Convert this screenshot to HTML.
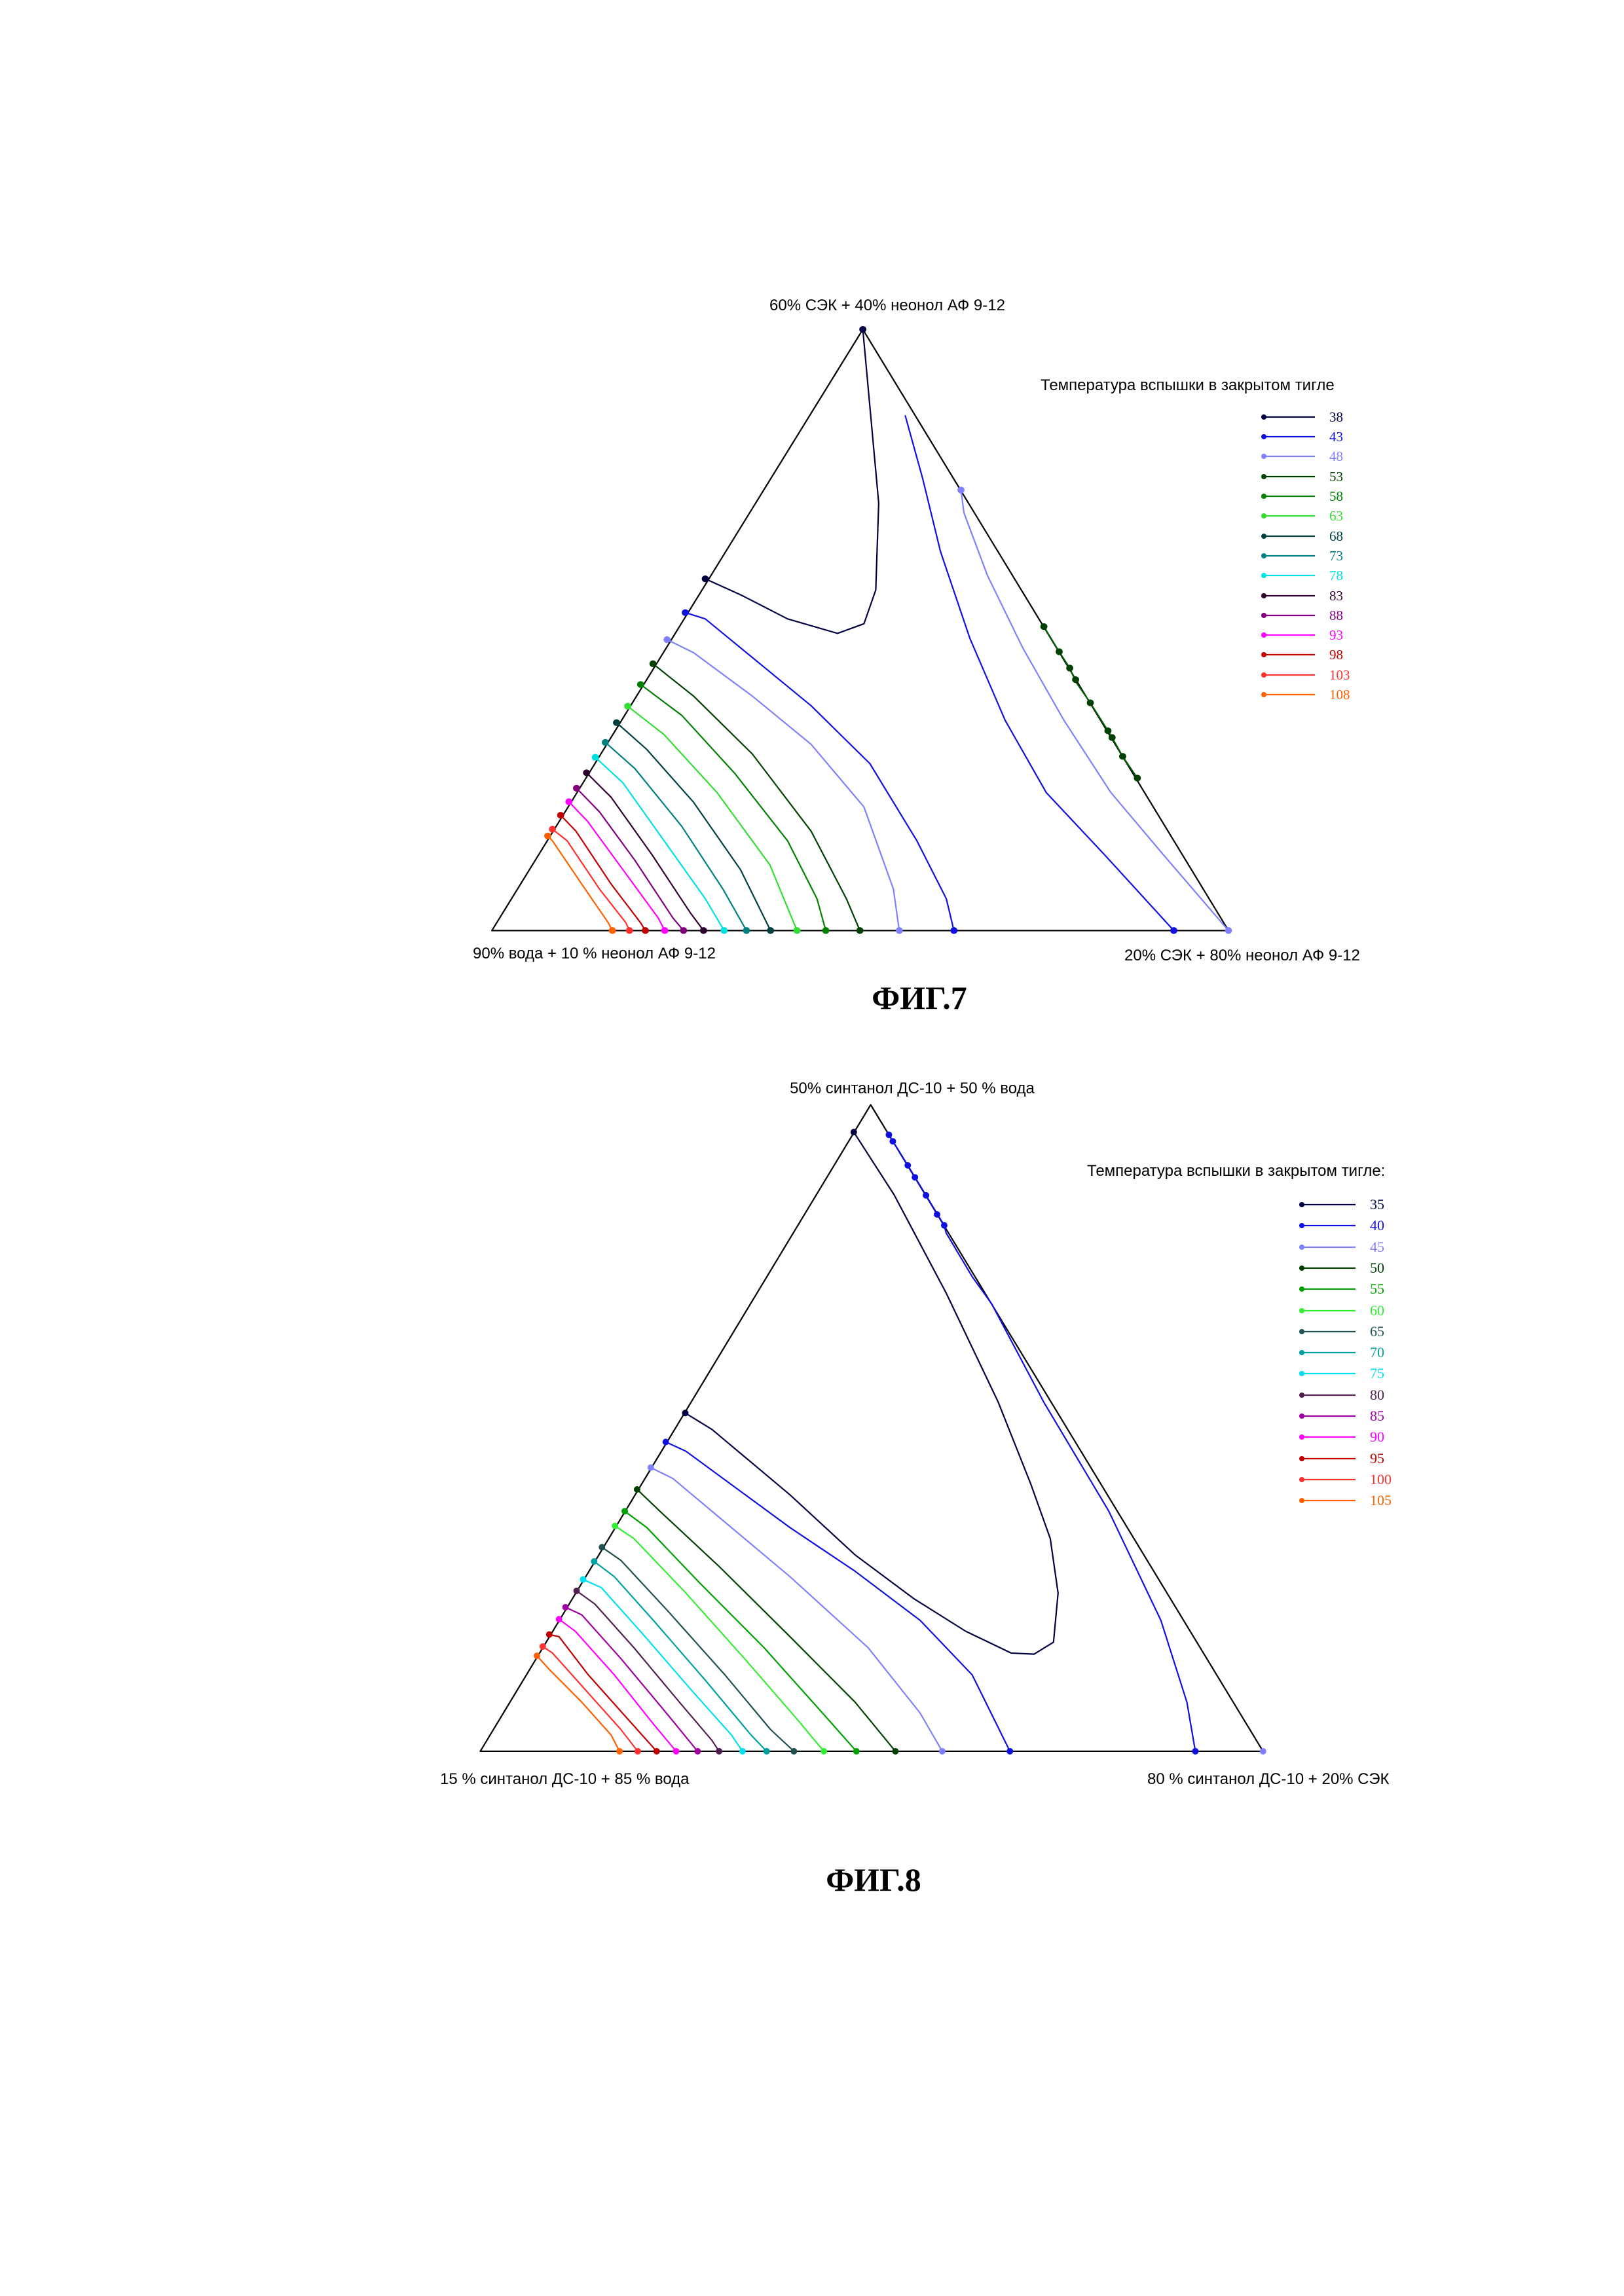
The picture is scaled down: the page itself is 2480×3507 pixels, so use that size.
<!DOCTYPE html>
<html><head><meta charset="utf-8"><style>
html,body{margin:0;padding:0;background:#fff}
svg{display:block}
text{font-family:"Liberation Sans","DejaVu Sans",sans-serif}
</style></head><body>
<svg width="2480" height="3507" viewBox="0 0 2480 3507" xmlns="http://www.w3.org/2000/svg">
<rect width="2480" height="3507" fill="#fff"/>
<g fill="none" stroke-width="2.2" stroke-linejoin="round">
<g transform="translate(700,400) scale(0.8977,0.7369)">
<path vector-effect="non-scaling-stroke" stroke="#000" d="M688,140 L57,1386 L1310,1386 Z"/>
<path vector-effect="non-scaling-stroke" stroke="#000040" d="M420,657 L480,690 L560,740 L645,770 L690,750 L710,680 L715,500 L700,300 L688,140"/>
<path vector-effect="non-scaling-stroke" stroke="#1010e0" d="M386,727 L420,740 L500,820 L600,920 L700,1040 L780,1200 L830,1320 L843,1386"/>
<path vector-effect="non-scaling-stroke" stroke="#1010e0" d="M760,318 L790,450 L820,600 L870,780 L930,950 L1000,1100 L1100,1230 L1217,1386"/>
<path vector-effect="non-scaling-stroke" stroke="#8080ff" d="M355,783 L400,810 L500,900 L600,1000 L690,1130 L740,1300 L750,1386"/>
<path vector-effect="non-scaling-stroke" stroke="#8080ff" d="M855,473 L860,520 L900,650 L960,800 L1030,950 L1110,1100 L1200,1230 L1310,1386"/>
<path vector-effect="non-scaling-stroke" stroke="#004000" d="M331,833 L400,900 L500,1020 L600,1180 L660,1320 L683,1386"/>
<path vector-effect="non-scaling-stroke" stroke="#006000" d="M996,756 L1022,808 L1040,842 L1050,870 L1075,914 L1105,972 L1112,986 L1130,1025 L1155,1070"/>
<path vector-effect="non-scaling-stroke" stroke="#008000" d="M310,876 L380,940 L470,1060 L560,1200 L610,1320 L625,1386"/>
<path vector-effect="non-scaling-stroke" stroke="#33dd33" d="M288,921 L350,980 L440,1100 L530,1250 L576,1386"/>
<path vector-effect="non-scaling-stroke" stroke="#004040" d="M269,955 L320,1010 L400,1120 L480,1260 L531,1386"/>
<path vector-effect="non-scaling-stroke" stroke="#008080" d="M250,996 L300,1050 L380,1170 L450,1300 L490,1386"/>
<path vector-effect="non-scaling-stroke" stroke="#00e0e0" d="M233,1027 L280,1080 L350,1200 L420,1320 L452,1386"/>
<path vector-effect="non-scaling-stroke" stroke="#300030" d="M218,1059 L260,1110 L330,1230 L395,1350 L417,1386"/>
<path vector-effect="non-scaling-stroke" stroke="#800080" d="M201,1091 L240,1140 L300,1240 L365,1360 L383,1386"/>
<path vector-effect="non-scaling-stroke" stroke="#ff00ff" d="M188,1119 L220,1160 L280,1260 L340,1360 L351,1386"/>
<path vector-effect="non-scaling-stroke" stroke="#c00000" d="M174,1147 L200,1180 L260,1290 L310,1370 L318,1386"/>
<path vector-effect="non-scaling-stroke" stroke="#ff3030" d="M160,1176 L185,1200 L240,1300 L285,1370 L291,1386"/>
<path vector-effect="non-scaling-stroke" stroke="#ff6000" d="M152,1190 L160,1200 L210,1290 L255,1370 L262,1386"/>
<g stroke="none">
<ellipse cx="688" cy="140" rx="6" ry="7" fill="#000040"/>
<ellipse cx="420" cy="657" rx="6" ry="7" fill="#000040"/>
<ellipse cx="386" cy="727" rx="6" ry="7" fill="#1010e0"/>
<ellipse cx="843" cy="1386" rx="6" ry="7" fill="#1010e0"/>
<ellipse cx="1217" cy="1386" rx="6" ry="7" fill="#1010e0"/>
<ellipse cx="355" cy="783" rx="6" ry="7" fill="#8080ff"/>
<ellipse cx="750" cy="1386" rx="6" ry="7" fill="#8080ff"/>
<ellipse cx="855" cy="473" rx="6" ry="7" fill="#8080ff"/>
<ellipse cx="1310" cy="1386" rx="6" ry="7" fill="#8080ff"/>
<ellipse cx="331" cy="833" rx="6" ry="7" fill="#004000"/><ellipse cx="683" cy="1386" rx="6" ry="7" fill="#004000"/>
<ellipse cx="996" cy="756" rx="6" ry="7" fill="#004000"/><ellipse cx="1022" cy="808" rx="6" ry="7" fill="#004000"/><ellipse cx="1040" cy="842" rx="6" ry="7" fill="#004000"/><ellipse cx="1050" cy="866" rx="6" ry="7" fill="#004000"/><ellipse cx="1075" cy="914" rx="6" ry="7" fill="#004000"/><ellipse cx="1105" cy="972" rx="6" ry="7" fill="#004000"/><ellipse cx="1112" cy="986" rx="6" ry="7" fill="#004000"/><ellipse cx="1130" cy="1025" rx="6" ry="7" fill="#004000"/><ellipse cx="1155" cy="1070" rx="6" ry="7" fill="#004000"/>
<ellipse cx="310" cy="876" rx="6" ry="7" fill="#008000"/><ellipse cx="625" cy="1386" rx="6" ry="7" fill="#008000"/>
<ellipse cx="288" cy="921" rx="6" ry="7" fill="#33dd33"/><ellipse cx="576" cy="1386" rx="6" ry="7" fill="#33dd33"/>
<ellipse cx="269" cy="955" rx="6" ry="7" fill="#004040"/><ellipse cx="531" cy="1386" rx="6" ry="7" fill="#004040"/>
<ellipse cx="250" cy="996" rx="6" ry="7" fill="#008080"/><ellipse cx="490" cy="1386" rx="6" ry="7" fill="#008080"/>
<ellipse cx="233" cy="1027" rx="6" ry="7" fill="#00e0e0"/><ellipse cx="452" cy="1386" rx="6" ry="7" fill="#00e0e0"/>
<ellipse cx="218" cy="1059" rx="6" ry="7" fill="#300030"/><ellipse cx="417" cy="1386" rx="6" ry="7" fill="#300030"/>
<ellipse cx="201" cy="1091" rx="6" ry="7" fill="#800080"/><ellipse cx="383" cy="1386" rx="6" ry="7" fill="#800080"/>
<ellipse cx="188" cy="1119" rx="6" ry="7" fill="#ff00ff"/><ellipse cx="351" cy="1386" rx="6" ry="7" fill="#ff00ff"/>
<ellipse cx="174" cy="1147" rx="6" ry="7" fill="#c00000"/><ellipse cx="318" cy="1386" rx="6" ry="7" fill="#c00000"/>
<ellipse cx="160" cy="1176" rx="6" ry="7" fill="#ff3030"/><ellipse cx="291" cy="1386" rx="6" ry="7" fill="#ff3030"/>
<ellipse cx="152" cy="1190" rx="6" ry="7" fill="#ff6000"/><ellipse cx="262" cy="1386" rx="6" ry="7" fill="#ff6000"/>
</g>
</g>

<g transform="translate(650,1600) scale(0.9936,0.8333)">
<path vector-effect="non-scaling-stroke" stroke="#000" d="M684,105 L84,1290 L1287,1290 Z"/>
<path vector-effect="non-scaling-stroke" stroke="#000040" d="M399,670 L440,700 L490,750 L560,820 L660,930 L750,1010 L830,1070 L900,1110 L935,1112 L965,1090 L972,1000 L960,900 L930,800 L880,650 L800,450 L720,270 L658,155"/>
<path vector-effect="non-scaling-stroke" stroke="#1010e0" d="M369,723 L400,740 L480,810 L560,880 L660,960 L760,1050 L840,1150 L898,1290"/>
<path vector-effect="non-scaling-stroke" stroke="#1010e0" d="M712,160 L741,216 L769,271 L797,326 L800,340 L820,380 L840,420 L870,470 L950,650 L1050,850 L1130,1050 L1170,1200 L1183,1290"/>
<path vector-effect="non-scaling-stroke" stroke="#8080ff" d="M346,770 L380,790 L460,870 L560,970 L680,1100 L760,1220 L794,1290"/>
<path vector-effect="non-scaling-stroke" stroke="#004000" d="M325,810 L360,850 L450,950 L560,1080 L660,1200 L722,1290"/>
<path vector-effect="non-scaling-stroke" stroke="#00a000" d="M306,850 L340,880 L420,980 L520,1100 L610,1220 L662,1290"/>
<path vector-effect="non-scaling-stroke" stroke="#33ee33" d="M291,877 L320,900 L400,1000 L490,1120 L570,1230 L612,1290"/>
<path vector-effect="non-scaling-stroke" stroke="#205050" d="M271,916 L300,940 L370,1030 L460,1150 L530,1250 L566,1290"/>
<path vector-effect="non-scaling-stroke" stroke="#00a0a0" d="M259,942 L290,970 L350,1050 L430,1160 L500,1260 L524,1290"/>
<path vector-effect="non-scaling-stroke" stroke="#00e0f0" d="M242,975 L270,990 L330,1070 L410,1180 L470,1260 L487,1290"/>
<path vector-effect="non-scaling-stroke" stroke="#502050" d="M232,996 L260,1020 L320,1100 L390,1200 L440,1270 L451,1290"/>
<path vector-effect="non-scaling-stroke" stroke="#a000a0" d="M215,1026 L240,1040 L300,1120 L370,1220 L418,1290"/>
<path vector-effect="non-scaling-stroke" stroke="#ff00ff" d="M205,1048 L230,1070 L290,1150 L350,1240 L385,1290"/>
<path vector-effect="non-scaling-stroke" stroke="#c00000" d="M190,1076 L205,1080 L250,1150 L310,1230 L355,1290"/>
<path vector-effect="non-scaling-stroke" stroke="#ff3030" d="M180,1098 L195,1110 L240,1170 L300,1250 L326,1290"/>
<path vector-effect="non-scaling-stroke" stroke="#ff6000" d="M171,1115 L190,1140 L240,1200 L285,1260 L298,1290"/>
<g stroke="none">
<ellipse cx="658" cy="155" rx="5" ry="6" fill="#000040"/><ellipse cx="399" cy="670" rx="5" ry="6" fill="#000040"/>
<ellipse cx="369" cy="723" rx="5" ry="6" fill="#1010e0"/><ellipse cx="898" cy="1290" rx="5" ry="6" fill="#1010e0"/><ellipse cx="1183" cy="1290" rx="5" ry="6" fill="#1010e0"/>
<ellipse cx="712" cy="160" rx="5" ry="6" fill="#1010e0"/><ellipse cx="718" cy="172" rx="5" ry="6" fill="#1010e0"/><ellipse cx="741" cy="216" rx="5" ry="6" fill="#1010e0"/><ellipse cx="752" cy="238" rx="5" ry="6" fill="#1010e0"/><ellipse cx="769" cy="271" rx="5" ry="6" fill="#1010e0"/><ellipse cx="786" cy="306" rx="5" ry="6" fill="#1010e0"/><ellipse cx="797" cy="326" rx="5" ry="6" fill="#1010e0"/>
<ellipse cx="346" cy="770" rx="5" ry="6" fill="#8080ff"/><ellipse cx="794" cy="1290" rx="5" ry="6" fill="#8080ff"/><ellipse cx="1287" cy="1290" rx="5" ry="6" fill="#8080ff"/>
<ellipse cx="325" cy="810" rx="5" ry="6" fill="#004000"/><ellipse cx="722" cy="1290" rx="5" ry="6" fill="#004000"/>
<ellipse cx="306" cy="850" rx="5" ry="6" fill="#00a000"/><ellipse cx="662" cy="1290" rx="5" ry="6" fill="#00a000"/>
<ellipse cx="291" cy="877" rx="5" ry="6" fill="#33ee33"/><ellipse cx="612" cy="1290" rx="5" ry="6" fill="#33ee33"/>
<ellipse cx="271" cy="916" rx="5" ry="6" fill="#205050"/><ellipse cx="566" cy="1290" rx="5" ry="6" fill="#205050"/>
<ellipse cx="259" cy="942" rx="5" ry="6" fill="#00a0a0"/><ellipse cx="524" cy="1290" rx="5" ry="6" fill="#00a0a0"/>
<ellipse cx="242" cy="975" rx="5" ry="6" fill="#00e0f0"/><ellipse cx="487" cy="1290" rx="5" ry="6" fill="#00e0f0"/>
<ellipse cx="232" cy="996" rx="5" ry="6" fill="#502050"/><ellipse cx="451" cy="1290" rx="5" ry="6" fill="#502050"/>
<ellipse cx="215" cy="1026" rx="5" ry="6" fill="#a000a0"/><ellipse cx="418" cy="1290" rx="5" ry="6" fill="#a000a0"/>
<ellipse cx="205" cy="1048" rx="5" ry="6" fill="#ff00ff"/><ellipse cx="385" cy="1290" rx="5" ry="6" fill="#ff00ff"/>
<ellipse cx="190" cy="1076" rx="5" ry="6" fill="#c00000"/><ellipse cx="355" cy="1290" rx="5" ry="6" fill="#c00000"/>
<ellipse cx="180" cy="1098" rx="5" ry="6" fill="#ff3030"/><ellipse cx="326" cy="1290" rx="5" ry="6" fill="#ff3030"/>
<ellipse cx="171" cy="1115" rx="5" ry="6" fill="#ff6000"/><ellipse cx="298" cy="1290" rx="5" ry="6" fill="#ff6000"/>
</g>
</g>
</g>

<g font-size="24" fill="#000">
<text x="1355" y="474" text-anchor="middle">60% СЭК + 40% неонол АФ 9-12</text>
<text x="722" y="1464">90% вода + 10 % неонол АФ 9-12</text>
<text x="1717" y="1467">20% СЭК + 80% неонол АФ 9-12</text>
<text x="1589" y="596">Температура вспышки в закрытом тигле</text>
</g>
<g stroke-width="2.2">
<line x1="1930" y1="637" x2="2008" y2="637" stroke="#000040"/>
<line x1="1930" y1="667" x2="2008" y2="667" stroke="#1010e0"/>
<line x1="1930" y1="697" x2="2008" y2="697" stroke="#8080ff"/>
<line x1="1930" y1="728" x2="2008" y2="728" stroke="#004000"/>
<line x1="1930" y1="758" x2="2008" y2="758" stroke="#008000"/>
<line x1="1930" y1="788" x2="2008" y2="788" stroke="#33dd33"/>
<line x1="1930" y1="819" x2="2008" y2="819" stroke="#004040"/>
<line x1="1930" y1="849" x2="2008" y2="849" stroke="#008080"/>
<line x1="1930" y1="879" x2="2008" y2="879" stroke="#00e0e0"/>
<line x1="1930" y1="910" x2="2008" y2="910" stroke="#300030"/>
<line x1="1930" y1="940" x2="2008" y2="940" stroke="#800080"/>
<line x1="1930" y1="970" x2="2008" y2="970" stroke="#ff00ff"/>
<line x1="1930" y1="1000" x2="2008" y2="1000" stroke="#c00000"/>
<line x1="1930" y1="1031" x2="2008" y2="1031" stroke="#ff3030"/>
<line x1="1930" y1="1061" x2="2008" y2="1061" stroke="#ff6000"/>
</g>
<g>
<circle cx="1930" cy="637" r="4" fill="#000040"/><circle cx="1930" cy="667" r="4" fill="#1010e0"/><circle cx="1930" cy="697" r="4" fill="#8080ff"/><circle cx="1930" cy="728" r="4" fill="#004000"/><circle cx="1930" cy="758" r="4" fill="#008000"/><circle cx="1930" cy="788" r="4" fill="#33dd33"/><circle cx="1930" cy="819" r="4" fill="#004040"/><circle cx="1930" cy="849" r="4" fill="#008080"/><circle cx="1930" cy="879" r="4" fill="#00e0e0"/><circle cx="1930" cy="910" r="4" fill="#300030"/><circle cx="1930" cy="940" r="4" fill="#800080"/><circle cx="1930" cy="970" r="4" fill="#ff00ff"/><circle cx="1930" cy="1000" r="4" fill="#c00000"/><circle cx="1930" cy="1031" r="4" fill="#ff3030"/><circle cx="1930" cy="1061" r="4" fill="#ff6000"/>
</g>
<g font-size="21">
<text style="font-family:'Liberation Serif',serif" x="2030" y="644" fill="#000040">38</text>
<text style="font-family:'Liberation Serif',serif" x="2030" y="674" fill="#1010e0">43</text>
<text style="font-family:'Liberation Serif',serif" x="2030" y="704" fill="#8080ff">48</text>
<text style="font-family:'Liberation Serif',serif" x="2030" y="735" fill="#004000">53</text>
<text style="font-family:'Liberation Serif',serif" x="2030" y="765" fill="#008000">58</text>
<text style="font-family:'Liberation Serif',serif" x="2030" y="795" fill="#33dd33">63</text>
<text style="font-family:'Liberation Serif',serif" x="2030" y="826" fill="#004040">68</text>
<text style="font-family:'Liberation Serif',serif" x="2030" y="856" fill="#008080">73</text>
<text style="font-family:'Liberation Serif',serif" x="2030" y="886" fill="#00e0e0">78</text>
<text style="font-family:'Liberation Serif',serif" x="2030" y="917" fill="#300030">83</text>
<text style="font-family:'Liberation Serif',serif" x="2030" y="947" fill="#800080">88</text>
<text style="font-family:'Liberation Serif',serif" x="2030" y="977" fill="#ff00ff">93</text>
<text style="font-family:'Liberation Serif',serif" x="2030" y="1007" fill="#c00000">98</text>
<text style="font-family:'Liberation Serif',serif" x="2030" y="1038" fill="#ff3030">103</text>
<text style="font-family:'Liberation Serif',serif" x="2030" y="1068" fill="#ff6000">108</text>
</g>
<text style="font-family:'Liberation Serif',serif;font-weight:bold" x="1404" y="1541" text-anchor="middle" font-size="50">ФИГ.7</text>

<g font-size="24" fill="#000">
<text x="1393" y="1670" text-anchor="middle">50% синтанол ДС-10 + 50 % вода</text>
<text x="672" y="2725">15 % синтанол ДС-10 + 85 % вода</text>
<text x="1752" y="2725">80 % синтанол ДС-10 + 20% СЭК</text>
<text x="1660" y="1796">Температура вспышки в закрытом тигле:</text>
</g>
<g stroke-width="2.2">
<line x1="1988" y1="1840" x2="2070" y2="1840" stroke="#000040"/>
<line x1="1988" y1="1872" x2="2070" y2="1872" stroke="#1010e0"/>
<line x1="1988" y1="1905" x2="2070" y2="1905" stroke="#8080ff"/>
<line x1="1988" y1="1937" x2="2070" y2="1937" stroke="#004000"/>
<line x1="1988" y1="1969" x2="2070" y2="1969" stroke="#00a000"/>
<line x1="1988" y1="2002" x2="2070" y2="2002" stroke="#33ee33"/>
<line x1="1988" y1="2034" x2="2070" y2="2034" stroke="#205050"/>
<line x1="1988" y1="2066" x2="2070" y2="2066" stroke="#00a0a0"/>
<line x1="1988" y1="2098" x2="2070" y2="2098" stroke="#00e0f0"/>
<line x1="1988" y1="2131" x2="2070" y2="2131" stroke="#502050"/>
<line x1="1988" y1="2163" x2="2070" y2="2163" stroke="#a000a0"/>
<line x1="1988" y1="2195" x2="2070" y2="2195" stroke="#ff00ff"/>
<line x1="1988" y1="2228" x2="2070" y2="2228" stroke="#c00000"/>
<line x1="1988" y1="2260" x2="2070" y2="2260" stroke="#ff3030"/>
<line x1="1988" y1="2292" x2="2070" y2="2292" stroke="#ff6000"/>
</g>
<g>
<circle cx="1988" cy="1840" r="4" fill="#000040"/><circle cx="1988" cy="1872" r="4" fill="#1010e0"/><circle cx="1988" cy="1905" r="4" fill="#8080ff"/><circle cx="1988" cy="1937" r="4" fill="#004000"/><circle cx="1988" cy="1969" r="4" fill="#00a000"/><circle cx="1988" cy="2002" r="4" fill="#33ee33"/><circle cx="1988" cy="2034" r="4" fill="#205050"/><circle cx="1988" cy="2066" r="4" fill="#00a0a0"/><circle cx="1988" cy="2098" r="4" fill="#00e0f0"/><circle cx="1988" cy="2131" r="4" fill="#502050"/><circle cx="1988" cy="2163" r="4" fill="#a000a0"/><circle cx="1988" cy="2195" r="4" fill="#ff00ff"/><circle cx="1988" cy="2228" r="4" fill="#c00000"/><circle cx="1988" cy="2260" r="4" fill="#ff3030"/><circle cx="1988" cy="2292" r="4" fill="#ff6000"/>
</g>
<g font-size="22">
<text style="font-family:'Liberation Serif',serif" x="2092" y="1847" fill="#000040">35</text>
<text style="font-family:'Liberation Serif',serif" x="2092" y="1879" fill="#1010e0">40</text>
<text style="font-family:'Liberation Serif',serif" x="2092" y="1912" fill="#8080ff">45</text>
<text style="font-family:'Liberation Serif',serif" x="2092" y="1944" fill="#004000">50</text>
<text style="font-family:'Liberation Serif',serif" x="2092" y="1976" fill="#00a000">55</text>
<text style="font-family:'Liberation Serif',serif" x="2092" y="2009" fill="#33ee33">60</text>
<text style="font-family:'Liberation Serif',serif" x="2092" y="2041" fill="#205050">65</text>
<text style="font-family:'Liberation Serif',serif" x="2092" y="2073" fill="#00a0a0">70</text>
<text style="font-family:'Liberation Serif',serif" x="2092" y="2105" fill="#00e0f0">75</text>
<text style="font-family:'Liberation Serif',serif" x="2092" y="2138" fill="#502050">80</text>
<text style="font-family:'Liberation Serif',serif" x="2092" y="2170" fill="#a000a0">85</text>
<text style="font-family:'Liberation Serif',serif" x="2092" y="2202" fill="#ff00ff">90</text>
<text style="font-family:'Liberation Serif',serif" x="2092" y="2235" fill="#c00000">95</text>
<text style="font-family:'Liberation Serif',serif" x="2092" y="2267" fill="#ff3030">100</text>
<text style="font-family:'Liberation Serif',serif" x="2092" y="2299" fill="#ff6000">105</text>
</g>
<text style="font-family:'Liberation Serif',serif;font-weight:bold" x="1334" y="2888" text-anchor="middle" font-size="50">ФИГ.8</text>
</svg>
</body></html>
